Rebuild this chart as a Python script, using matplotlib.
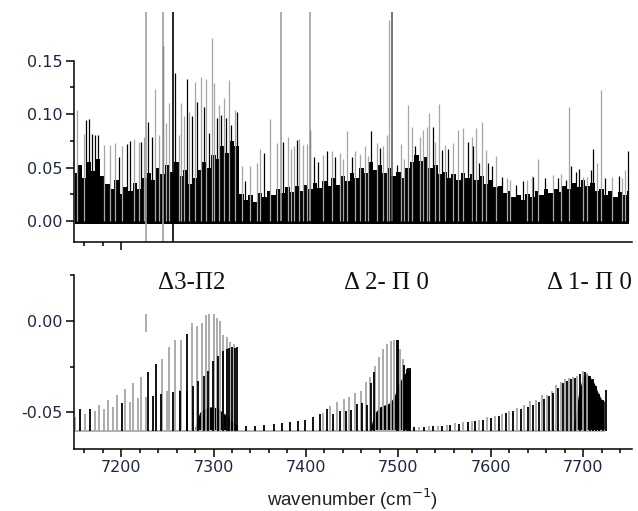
import numpy as np
import matplotlib
matplotlib.use('Agg')
import matplotlib.pyplot as plt
from matplotlib.ticker import MultipleLocator, FixedLocator, FormatStrFormatter

plt.rcParams['axes.unicode_minus'] = False

# upper edge of the dense black noise band, sampled every 5 cm-1
env_x = [7150, 7155, 7160, 7165, 7170, 7175, 7180, 7185, 7190, 7195,
         7200, 7205, 7210, 7215, 7220, 7225, 7230, 7235, 7240, 7245,
         7250, 7255, 7260, 7265, 7270, 7275, 7280, 7285, 7290, 7295,
         7300, 7305, 7310, 7315, 7320, 7325, 7330, 7335, 7340, 7345,
         7350, 7355, 7360, 7365, 7370, 7375, 7380, 7385, 7390, 7395,
         7400, 7405, 7410, 7415, 7420, 7425, 7430, 7435, 7440, 7445,
         7450, 7455, 7460, 7465, 7470, 7475, 7480, 7485, 7490, 7495,
         7500, 7505, 7510, 7515, 7520, 7525, 7530, 7535, 7540, 7545,
         7550, 7555, 7560, 7565, 7570, 7575, 7580, 7585, 7590, 7595,
         7600, 7605, 7610, 7615, 7620, 7625, 7630, 7635, 7640, 7645,
         7650, 7655, 7660, 7665, 7670, 7675, 7680, 7685, 7690, 7695,
         7700, 7705, 7710, 7715, 7720, 7725, 7730, 7735, 7740, 7745, 7750]
env_y = [0.045, 0.052, 0.040, 0.055, 0.047, 0.058, 0.042, 0.035, 0.030, 0.038,
         0.025, 0.032, 0.028, 0.036, 0.030, 0.040, 0.045, 0.038, 0.050, 0.044,
         0.052, 0.046, 0.055, 0.042, 0.048, 0.035, 0.040, 0.048, 0.055, 0.050,
         0.062, 0.058, 0.070, 0.064, 0.075, 0.070, 0.025, 0.020, 0.024, 0.018,
         0.026, 0.022, 0.028, 0.024, 0.030, 0.026, 0.032, 0.027, 0.033, 0.028,
         0.034, 0.030, 0.036, 0.031, 0.037, 0.033, 0.040, 0.034, 0.042, 0.037,
         0.045, 0.040, 0.050, 0.045, 0.055, 0.048, 0.052, 0.045, 0.050, 0.042,
         0.046, 0.040, 0.050, 0.055, 0.062, 0.056, 0.060, 0.050, 0.052, 0.044,
         0.046, 0.040, 0.044, 0.038, 0.045, 0.040, 0.044, 0.038, 0.042, 0.035,
         0.038, 0.032, 0.033, 0.026, 0.028, 0.022, 0.024, 0.020, 0.025, 0.022,
         0.028, 0.024, 0.030, 0.026, 0.030, 0.027, 0.033, 0.030, 0.036, 0.032,
         0.038, 0.033, 0.036, 0.028, 0.030, 0.024, 0.028, 0.022, 0.027, 0.024, 0.028]

# grey lines sticking out of the noise
grey_x = [7152.4, 7159.6, 7181.3, 7188.5, 7193.9, 7201, 7213.7, 7219, 7224.5, 7237.2, 7240.8,
          7248.6, 7251.5, 7262.4, 7264.5, 7267.8, 7274, 7279.7, 7286.9, 7291.9, 7298.4, 7300.2,
          7305.6, 7311, 7317.1, 7323.6, 7330.8, 7339.8, 7347, 7350.6, 7361.3, 7368.5, 7381.1,
          7384, 7387.6, 7392.6, 7397.3, 7401.6, 7418.9, 7427.9, 7436.9, 7440.5, 7444.1, 7453.1,
          7458.5, 7463.9, 7467.5, 7476.5, 7483.8, 7487.4, 7490.3, 7502.5, 7506.1, 7510.8, 7514.4,
          7523.4, 7527, 7530.6, 7533.1, 7539.6, 7543.9, 7550.6, 7559.6, 7565, 7570.4, 7579.4,
          7584.2, 7590.7, 7594.7, 7605.9, 7617.4, 7621, 7639.8, 7644.5, 7651, 7667.9, 7676.2,
          7685.2, 7700.3, 7703.9, 7714.7, 7719.1, 7731, 7741.9, 7745.5]
grey_y = [0.104, 0.081, 0.071, 0.071, 0.073, 0.07, 0.077, 0.074, 0.079, 0.123, 0.08,
          0.092, 0.11, 0.08, 0.11, 0.098, 0.102, 0.13, 0.135, 0.133, 0.171, 0.129,
          0.108, 0.115, 0.132, 0.104, 0.051, 0.051, 0.054, 0.067, 0.095, 0.073, 0.079,
          0.067, 0.07, 0.077, 0.071, 0.072, 0.062, 0.065, 0.064, 0.058, 0.084, 0.065,
          0.063, 0.07, 0.061, 0.073, 0.07, 0.08, 0.188, 0.072, 0.058, 0.108, 0.088,
          0.079, 0.085, 0.088, 0.101, 0.074, 0.109, 0.071, 0.073, 0.085, 0.087, 0.079,
          0.087, 0.093, 0.066, 0.061, 0.04, 0.038, 0.038, 0.042, 0.058, 0.043, 0.044,
          0.107, 0.041, 0.041, 0.054, 0.122, 0.041, 0.04, 0.048]

# black lines sticking out of the noise
black_x = [7162.2, 7165, 7168.6, 7171.5, 7175, 7197.5, 7206.5, 7210, 7222, 7229.2, 7233.5,
           7245, 7258, 7271.4, 7276.8, 7282.2, 7289.4, 7294.8, 7303.8, 7308.5, 7313.5, 7319.3,
           7325.4, 7334.4, 7355.1, 7375.7, 7390.1, 7404.5, 7409.2, 7413.5, 7422.5, 7431.5,
           7449.5, 7470.4, 7480.1, 7498.2, 7518, 7537.8, 7547, 7554.2, 7575.1, 7580.6, 7587.8,
           7597.5, 7601.2, 7612, 7627.5, 7634.7, 7646.3, 7658.9, 7673.3, 7681.6, 7686.6,
           7692.4, 7696, 7708.6, 7710.4, 7723.8, 7738.6, 7749.1]
black_y = [0.094, 0.095, 0.081, 0.08, 0.08, 0.06, 0.072, 0.075, 0.074, 0.093, 0.079,
           0.164, 0.138, 0.133, 0.098, 0.111, 0.107, 0.082, 0.096, 0.099, 0.096, 0.09,
           0.102, 0.037, 0.064, 0.074, 0.076, 0.085, 0.06, 0.055, 0.065, 0.06,
           0.06, 0.084, 0.068, 0.052, 0.07, 0.088, 0.066, 0.067, 0.074, 0.07, 0.054,
           0.054, 0.051, 0.041, 0.034, 0.037, 0.041, 0.04, 0.04, 0.038, 0.051,
           0.046, 0.049, 0.048, 0.067, 0.04, 0.042, 0.065]

# off-scale lines (run past the top of the frame)
tall_x = [7227, 7245, 7256.2, 7373.2, 7404.5, 7493.5]
tall_low = [-0.02, -0.02, -0.02, 0.0, 0.0, 0.0]
tall_col = ['#a0a0a0', '#a0a0a0', 'black', '#a0a0a0', '#a0a0a0', '#606060']

# ---------------- bottom panel: simulated stick spectra ----------------

b1_grey_x = [7150.5, 7161.4, 7171.9, 7176.5, 7181.6, 7186, 7191, 7195.3, 7204.3, 7210, 7213,
             7218.8, 7221.3, 7227, 7244.4, 7250, 7251.6, 7258.8, 7264.2, 7265, 7276.8, 7282.2,
             7287.3, 7292.2, 7295.6, 7300, 7304.3, 7307.2, 7310.8, 7314.5, 7318, 7321.7]
b1_grey_y = [-0.0524, -0.051, -0.0495, -0.0462, -0.0484, -0.0434, -0.0469, -0.0405, -0.0374,
             -0.0443, -0.0339, -0.0421, -0.0306, -0.0416, -0.021, -0.0383, -0.0145, -0.0103,
             -0.0379, -0.0104, -0.0011, -0.0026, -0.0011, 0.0033, 0.0035, 0.0035, 0.0018, 0.0,
             -0.008, -0.0088, -0.0117, -0.0128]
b1_black_x = [7155.6, 7166, 7201, 7229.5, 7235, 7237.5, 7243, 7256.6, 7263.8, 7271, 7271.8,
              7278, 7283.7, 7289.8, 7294.5, 7299.9, 7305.3, 7310, 7314.4, 7317, 7319.8, 7323.4,
              7325.9]
b1_black_y = [-0.0484, -0.0484, -0.045, -0.0278, -0.041, -0.0238, -0.0397, -0.039, -0.0385,
              -0.0071, -0.0383, -0.0355, -0.033, -0.030, -0.0273, -0.0218, -0.019, -0.0163,
              -0.0154, -0.015, -0.0145, -0.015, -0.0145]
b1_fill_x = [7280, 7285, 7290, 7295, 7300, 7305, 7310, 7315, 7320, 7326]
b1_fill_y = [-0.058, -0.05, -0.048, -0.047, -0.047, -0.048, -0.05, -0.052, -0.055, -0.057]

b2_grey_x = [7418, 7426, 7434, 7441, 7447, 7453, 7460, 7465, 7469.5, 7475, 7479.6, 7484, 7488,
             7492, 7495.8, 7502, 7505]
b2_grey_y = [-0.0505, -0.0467, -0.0445, -0.0429, -0.0415, -0.0394, -0.0383, -0.0335, -0.0305,
             -0.0245, -0.0195, -0.0155, -0.0128, -0.011, -0.0106, -0.0154, -0.021]
b2_black_x = [7335.3, 7345.4, 7355, 7365, 7374, 7382.6, 7391.2, 7399, 7407.6, 7415.4, 7422.6,
              7429.8, 7437, 7443.2, 7449, 7455, 7460.5, 7466, 7470.5, 7474, 7498.4, 7500,
              7506.5, 7509.2, 7511, 7512.8]
b2_black_y = [-0.0577, -0.0575, -0.0571, -0.0565, -0.056, -0.0555, -0.0546, -0.054, -0.0525,
              -0.051, -0.0484, -0.0508, -0.0493, -0.049, -0.0487, -0.0456, -0.045, -0.046,
              -0.0337, -0.0282, -0.0104, -0.0106, -0.0242, -0.0264, -0.026, -0.0258]
b2_fill_x = [7470, 7475, 7480, 7485, 7490, 7495, 7500, 7505, 7510, 7513]
b2_fill_y = [-0.058, -0.05, -0.047, -0.046, -0.045, -0.042, -0.035, -0.03, -0.027, -0.026]

b3_grey_x = [7522.5, 7533, 7543.5, 7552.5, 7561.5, 7570.5, 7579.5, 7587.8, 7596.4, 7604.8,
             7612.7, 7620.2, 7628.2, 7636.5, 7642.6, 7649, 7655.3, 7660.7, 7666, 7670.8,
             7675.8, 7680.5, 7685.2, 7689.5, 7693.8, 7699.6, 7704.5]
b3_grey_y = [-0.0582, -0.0577, -0.0575, -0.0568, -0.056, -0.0553, -0.0546, -0.054, -0.0526,
             -0.0518, -0.051, -0.0493, -0.0477, -0.0462, -0.044, -0.043, -0.0405, -0.0405,
             -0.0383, -0.0352, -0.0334, -0.0317, -0.031, -0.0308, -0.0302, -0.0275, -0.0283]
b3_black_x = [7517.5, 7527.5, 7538, 7547, 7556.5, 7566, 7575, 7583, 7591.5, 7600, 7608.5,
              7616.3, 7623.8, 7632.8, 7640, 7646, 7652, 7658, 7663, 7668, 7673, 7678, 7683,
              7687.5, 7691.5, 7696.8, 7702, 7707.6, 7710.5, 7714, 7717.7, 7721.3, 7724.6]
b3_black_y = [-0.0582, -0.058, -0.0577, -0.0575, -0.0568, -0.0562, -0.0553, -0.0547, -0.0541,
              -0.0528, -0.0518, -0.0505, -0.0495, -0.048, -0.0471, -0.0458, -0.0445, -0.0425,
              -0.041, -0.0395, -0.0365, -0.034, -0.033, -0.032, -0.031, -0.029, -0.0278,
              -0.0301, -0.0317, -0.0357, -0.0398, -0.0434, -0.0379]
b3_fill_x = [7690, 7695, 7700, 7704, 7708, 7712, 7716, 7720, 7723]
b3_fill_y = [-0.058, -0.04, -0.03, -0.029, -0.031, -0.034, -0.039, -0.043, -0.044]

stray_x = [7227]
stray_lo = [-0.006]
stray_hi = [0.0038]

baseline = -0.06
bands = [(7276.8, 'Δ3-Π2'), (7486.8, 'Δ 2- Π 0'), (7706.5, 'Δ 1- Π 0')]

tick_col = '#1e2740'
xlim = (7149, 7753)

fig = plt.figure(figsize=(6.38, 5.11), dpi=100)
ax1 = fig.add_axes([0.116, 0.5264, 0.8746, 0.450])
ax2 = fig.add_axes([0.116, 0.1213, 0.8746, 0.3405])

# top panel
ax1.vlines(grey_x, 0, grey_y, color='#a6a6a6', lw=0.9)
ax1.fill_between(env_x, -0.003, env_y, step='mid', color='black', lw=0)
ax1.vlines(black_x, 0, black_y, color='black', lw=0.9)
for x, lo, c in zip(tall_x, tall_low, tall_col):
    ax1.vlines(x, lo, 0.3, color=c, lw=1.2)

ax1.set_xlim(*xlim)
ax1.set_ylim(-0.0196, 0.1953)
ax1.set_xticks([7200])
ax1.set_xticks([7160, 7180], minor=True)
ax1.set_xticklabels([])
ax1.yaxis.set_major_locator(FixedLocator([0.0, 0.05, 0.10, 0.15]))
ax1.yaxis.set_minor_locator(FixedLocator([0.025, 0.075, 0.125]))
ax1.yaxis.set_major_formatter(FormatStrFormatter('%.2f'))
ax1.spines['left'].set_bounds(-0.0196, 0.15)

# bottom panel
ax2.hlines(baseline, 7149, 7724, color='#b4b4b4', lw=1.5)
ax2.vlines(b1_grey_x, baseline, b1_grey_y, color='#a6a6a6', lw=1.3)
ax2.vlines(b2_grey_x, baseline, b2_grey_y, color='#a6a6a6', lw=1.3)
ax2.vlines(b3_grey_x, baseline, b3_grey_y, color='#a6a6a6', lw=1.3)
ax2.fill_between(b1_fill_x, baseline, b1_fill_y, color='black', lw=0)
ax2.fill_between(b2_fill_x, baseline, b2_fill_y, color='black', lw=0)
ax2.fill_between(b3_fill_x, baseline, b3_fill_y, color='black', lw=0)
ax2.vlines(b1_black_x, baseline, b1_black_y, color='black', lw=1.3)
ax2.vlines(b2_black_x, baseline, b2_black_y, color='black', lw=1.3)
ax2.vlines(b3_black_x, baseline, b3_black_y, color='black', lw=1.3)
ax2.vlines(stray_x, stray_lo, stray_hi, color='#a6a6a6', lw=1.3)

for x, lab in bands:
    ax2.text(x, 0.0209, lab, ha='center', va='center', fontsize=18,
             family='Liberation Serif', color='#111111', clip_on=False)

ax2.set_xlim(*xlim)
ax2.set_ylim(-0.07, 0.025)
ax2.xaxis.set_major_locator(MultipleLocator(100))
ax2.xaxis.set_minor_locator(MultipleLocator(20))
ax2.yaxis.set_major_locator(FixedLocator([-0.05, 0.0]))
ax2.yaxis.set_minor_locator(FixedLocator([-0.025, 0.025]))
ax2.yaxis.set_major_formatter(FormatStrFormatter('%.2f'))
ax2.set_xlabel('wavenumber (cm$^{-1}$)', fontsize=13.5, family='Liberation Sans',
               color='#222222', labelpad=8)

for ax in (ax1, ax2):
    for s in ('top', 'right'):
        ax.spines[s].set_visible(False)
    for s in ('left', 'bottom'):
        ax.spines[s].set_linewidth(1.1)
    ax.tick_params(which='major', direction='out', length=6, width=1.1,
                   labelsize=11.5, labelcolor=tick_col, pad=2)
    ax.tick_params(which='minor', direction='out', length=3, width=1.1)

fig.savefig('out.png', dpi=100)
